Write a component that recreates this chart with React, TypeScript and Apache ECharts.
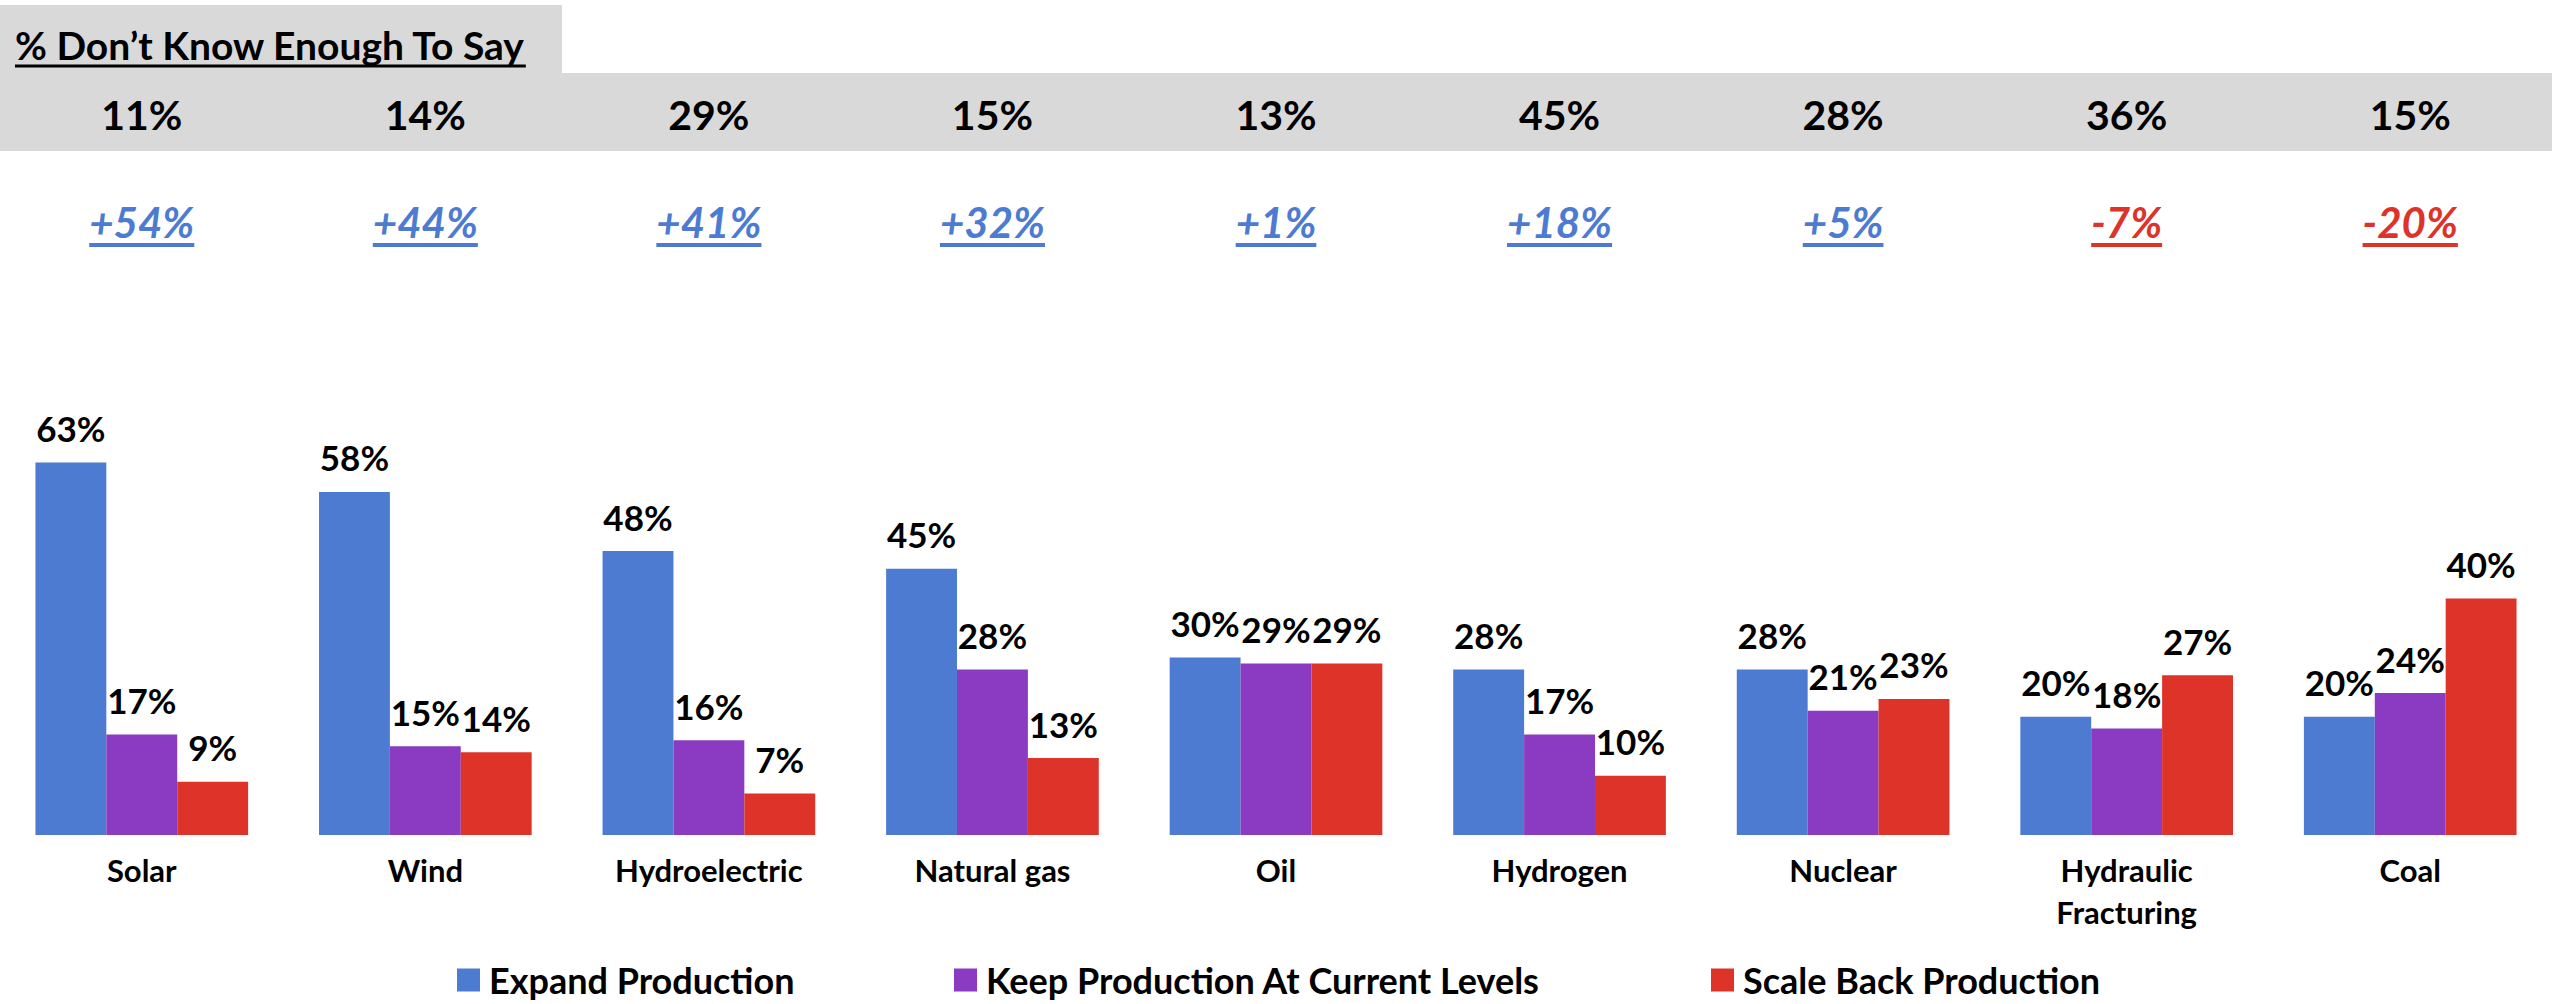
import React, { useEffect, useRef } from "react";
import * as echarts from "echarts";

const categories = ["Solar", "Wind", "Hydroelectric", "Natural gas", "Oil", "Hydrogen", "Nuclear", "Hydraulic\nFracturing", "Coal"];
const seriesNames = ["Expand Production", "Keep Production At Current Levels", "Scale Back Production"];
const expandValues = [63, 58, 48, 45, 30, 28, 28, 20, 20];
const keepValues = [17, 15, 16, 28, 29, 17, 21, 18, 24];
const scaleBackValues = [9, 14, 7, 13, 29, 10, 23, 27, 40];
const dontKnowValues = [11, 14, 29, 15, 13, 45, 28, 36, 15];
const netValues = [54, 44, 41, 32, 1, 18, 5, -7, -20];
const headerTitle = "% Don\u2019t Know Enough To Say";

const BLUE = "#4C7BD1";
const PURPLE = "#8A3BC1";
const RED = "#DD3328";
const FONT = "Lato";

function measure(text: string, font: string): number {
  const c = document.createElement("canvas");
  const ctx = c.getContext("2d");
  if (!ctx) return text.length * 20;
  ctx.font = font;
  return ctx.measureText(text).width;
}

export default function App() {
  const ref = useRef<HTMLDivElement>(null);
  useEffect(() => {
    if (!ref.current) return;
    const chart = echarts.init(ref.current, null, { renderer: "svg" });
    const barLabel = {
      show: true,
      position: "top",
      distance: 17,
      formatter: "{c}%",
      fontFamily: FONT,
      fontWeight: "bold",
      fontSize: 35,
      color: "#000",
    };
    const colors = [BLUE, PURPLE, RED];
    const values = [expandValues, keepValues, scaleBackValues];
    const legendLefts = [457, 954, 1711];
    chart.setOption({
      animation: false,
      grid: { left: 0, right: 0, top: 421, bottom: 169, containLabel: false },
      xAxis: {
        type: "category",
        data: categories,
        axisLine: { show: false },
        axisTick: { show: false },
        axisLabel: {
          interval: 0,
          fontFamily: FONT,
          fontWeight: "bold",
          fontSize: 31,
          color: "#000",
          lineHeight: 42,
          margin: 14,
        },
      },
      yAxis: { type: "value", min: 0, max: 70, show: false, splitLine: { show: false } },
      legend: seriesNames.map((n, i) => ({
        data: [n],
        left: legendLefts[i],
        top: 962,
        padding: 0,
        icon: "rect",
        itemWidth: 23,
        itemHeight: 23,
        textStyle: {
          fontFamily: FONT,
          fontWeight: "bold",
          fontSize: 36,
          lineHeight: 36,
          color: "#000",
          padding: [0, 0, 0, 4],
        },
        selectedMode: false,
      })),
      series: seriesNames.map((n, i) => ({
        name: n,
        type: "bar",
        data: values[i],
        itemStyle: { color: colors[i] },
        label: barLabel,
        barGap: "0%",
        barCategoryGap: "25%",
      })),
    });

    const xs = categories.map((c) => chart.convertToPixel({ xAxisIndex: 0 }, c) as number);
    const W = chart.getWidth();
    const titleFont = `bold 39px ${FONT}`;
    const titleW = measure(headerTitle, titleFont);
    const netFont = `italic bold 42px ${FONT}`;
    const graphics: any[] = [
      { type: "rect", shape: { x: 0, y: 5, width: 562, height: 69 }, style: { fill: "#D9D9D9" }, silent: true },
      { type: "rect", shape: { x: 0, y: 73, width: W, height: 78 }, style: { fill: "#D9D9D9" }, silent: true },
      {
        type: "text",
        x: 15,
        y: 45,
        style: { text: headerTitle, font: titleFont, fill: "#000", textVerticalAlign: "middle", textAlign: "left" },
      },
      { type: "line", shape: { x1: 15, y1: 66, x2: 15 + titleW, y2: 66 }, style: { stroke: "#000", lineWidth: 3 } },
    ];
    xs.forEach((x, i) => {
      graphics.push({
        type: "text",
        x,
        y: 114,
        style: { text: `${dontKnowValues[i]}%`, font: `bold 41px ${FONT}`, fill: "#000", textAlign: "center", textVerticalAlign: "middle" },
      });
      const v = netValues[i];
      const txt = `${v > 0 ? "+" : ""}${v}%`;
      const col = v >= 0 ? BLUE : RED;
      const w = measure(txt, netFont);
      graphics.push({
        type: "text",
        x,
        y: 222,
        style: { text: txt, font: netFont, fill: col, textAlign: "center", textVerticalAlign: "middle" },
      });
      graphics.push({
        type: "line",
        shape: { x1: x - w / 2, y1: 245, x2: x + w / 2, y2: 245 },
        style: { stroke: col, lineWidth: 4 },
      });
    });
    chart.setOption({ graphic: graphics });
    return () => chart.dispose();
  }, []);
  return <div ref={ref} style={{ position: "absolute", left: 0, top: 0, width: 2552, height: 1004 }} />;
}
